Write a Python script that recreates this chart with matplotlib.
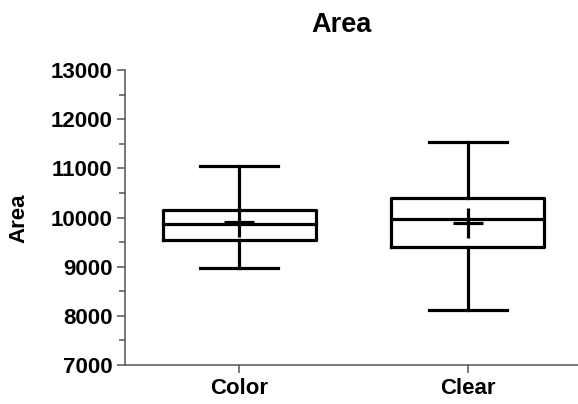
import matplotlib
matplotlib.use("Agg")
import matplotlib.pyplot as plt
from matplotlib.ticker import MultipleLocator

plt.rcParams['font.family'] = ['Liberation Sans', 'DejaVu Sans']
plt.rcParams['font.weight'] = 'bold'

# Box-and-whisker summary for each group
categories = ["Color", "Clear"]
whisker_low = [8970, 8120]
q1 = [9545, 9395]
median = [9860, 9965]
q3 = [10155, 10405]
whisker_high = [11045, 11545]
mean = [9900, 9885]

W, H = 578, 404
fig = plt.figure(figsize=(W / 100, H / 100), dpi=100)
ax = fig.add_axes([125 / W, 1 - 365 / H, (582 - 125) / W, (365 - 70) / H])

stats = []
for i, name in enumerate(categories):
    stats.append(dict(label=name, whislo=whisker_low[i], q1=q1[i], med=median[i],
                      q3=q3[i], whishi=whisker_high[i], mean=mean[i], fliers=[]))

lw = 2.3
ax.bxp(stats, positions=range(len(categories)), widths=0.67, capwidths=0.34,
       showmeans=True, showfliers=False,
       boxprops=dict(color='black', linewidth=lw),
       whiskerprops=dict(color='black', linewidth=lw),
       capprops=dict(color='black', linewidth=lw),
       medianprops=dict(color='black', linewidth=lw),
       meanprops=dict(marker='+', markersize=22, markeredgewidth=2.3,
                      markeredgecolor='black', markerfacecolor='none'))

ax.set_xlim(-0.5, 1.5)
ax.set_ylim(7000, 13000)
ax.yaxis.set_major_locator(MultipleLocator(1000))
ax.yaxis.set_minor_locator(MultipleLocator(500))

for s in ['top', 'right']:
    ax.spines[s].set_visible(False)
for s in ['left', 'bottom']:
    ax.spines[s].set_color('#555555')
    ax.spines[s].set_linewidth(1.1)

ax.tick_params(axis='both', which='major', colors='#555555', length=6, width=1.1,
               labelcolor='black', labelsize=16, pad=3)
ax.tick_params(axis='y', which='minor', colors='#555555', length=4, width=1.1)
for lab in ax.get_xticklabels() + ax.get_yticklabels():
    lab.set_fontweight('bold')

fig.text(19 / W, 1 - 218 / H, "Area", rotation=90, ha='center', va='center',
         fontsize=16, fontweight='bold')
fig.text(341 / W, 1 - 25 / H, "Area", ha='center', va='center',
         fontsize=19.5, fontweight='bold')

fig.savefig("out.png", dpi=100, facecolor='white')
